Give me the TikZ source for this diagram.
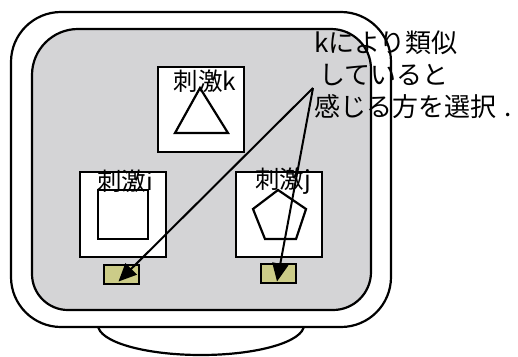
\documentclass[tikz,border=0pt]{standalone}
\usepackage{fontspec}
\setmainfont{Noto Sans CJK JP}
\usetikzlibrary{shapes.misc,arrows.meta}
\definecolor{screen}{RGB}{212,212,214}
\definecolor{btn}{RGB}{204,204,136}
\begin{document}
\begin{tikzpicture}[x=1pt,y=-1pt,line width=2.2pt,
  stim/.style={draw,fill=white,minimum width=86pt,minimum height=85pt,inner sep=0pt},
  lbl/.style={font=\fontsize{24.5}{28}\selectfont,inner sep=0pt},
  note/.style={font=\fontsize{26}{32}\selectfont,inner sep=0pt,align=left,anchor=north west},
  btnbox/.style={draw,fill=btn,chamfered rectangle,chamfered rectangle corners={north west,south west},chamfered rectangle xsep=5pt,chamfered rectangle ysep=5pt,minimum width=35pt,minimum height=19pt,inner sep=0pt},
  arr/.style={-{Triangle[length=18pt,width=16pt]},line width=2pt}]
\useasboundingbox (0,0) rectangle (518,356);
% stand
\draw[fill=white] (201,325) ellipse [x radius=103, y radius=30];
% monitor
\draw[fill=white,rounded corners=50] (11,12) rectangle (391,327);
\draw[fill=screen] (32,170) [rounded corners=46] -- (32,29) [rounded corners=40] -- (371,29) [rounded corners=38] -- (371,310) [rounded corners=36] -- (32,310) -- cycle;
% stimulus boxes
\node[stim] (bk) at (201,109.5) {};
\node[stim] (bi) at (123,214.5) {};
\node[stim] (bj) at (279,214.5) {};
\draw[fill=white] (200,88) -- (175,133) -- (228,133) -- cycle;
\draw[fill=white] (98,190) rectangle (148,239);
\draw[fill=white] (278,190) -- (306,209) -- (296,239) -- (265,239) -- (253,209) -- cycle;
\node[lbl] (lk) at (205,81) {刺激k};
\node[lbl] (li) at (125,181) {刺激i};
\node[lbl] (lj) at (283,181) {刺激j};
% buttons
\node[btnbox] (b1) at (121.5,274.5) {};
\node[btnbox] (b2) at (278.5,273.5) {};
% note
\node[note] (txt) at (313,30) {kにより類似\\\hspace{5pt}していると\\感じる方を選択\hspace{8pt}.};
\coordinate (src) at (313,88);
\draw[arr] (src) -- ([shift={(-3,7)}]b1.center);
\draw[arr] (src) -- ([shift={(-1.5,8)}]b2.center);
\end{tikzpicture}
\end{document}
